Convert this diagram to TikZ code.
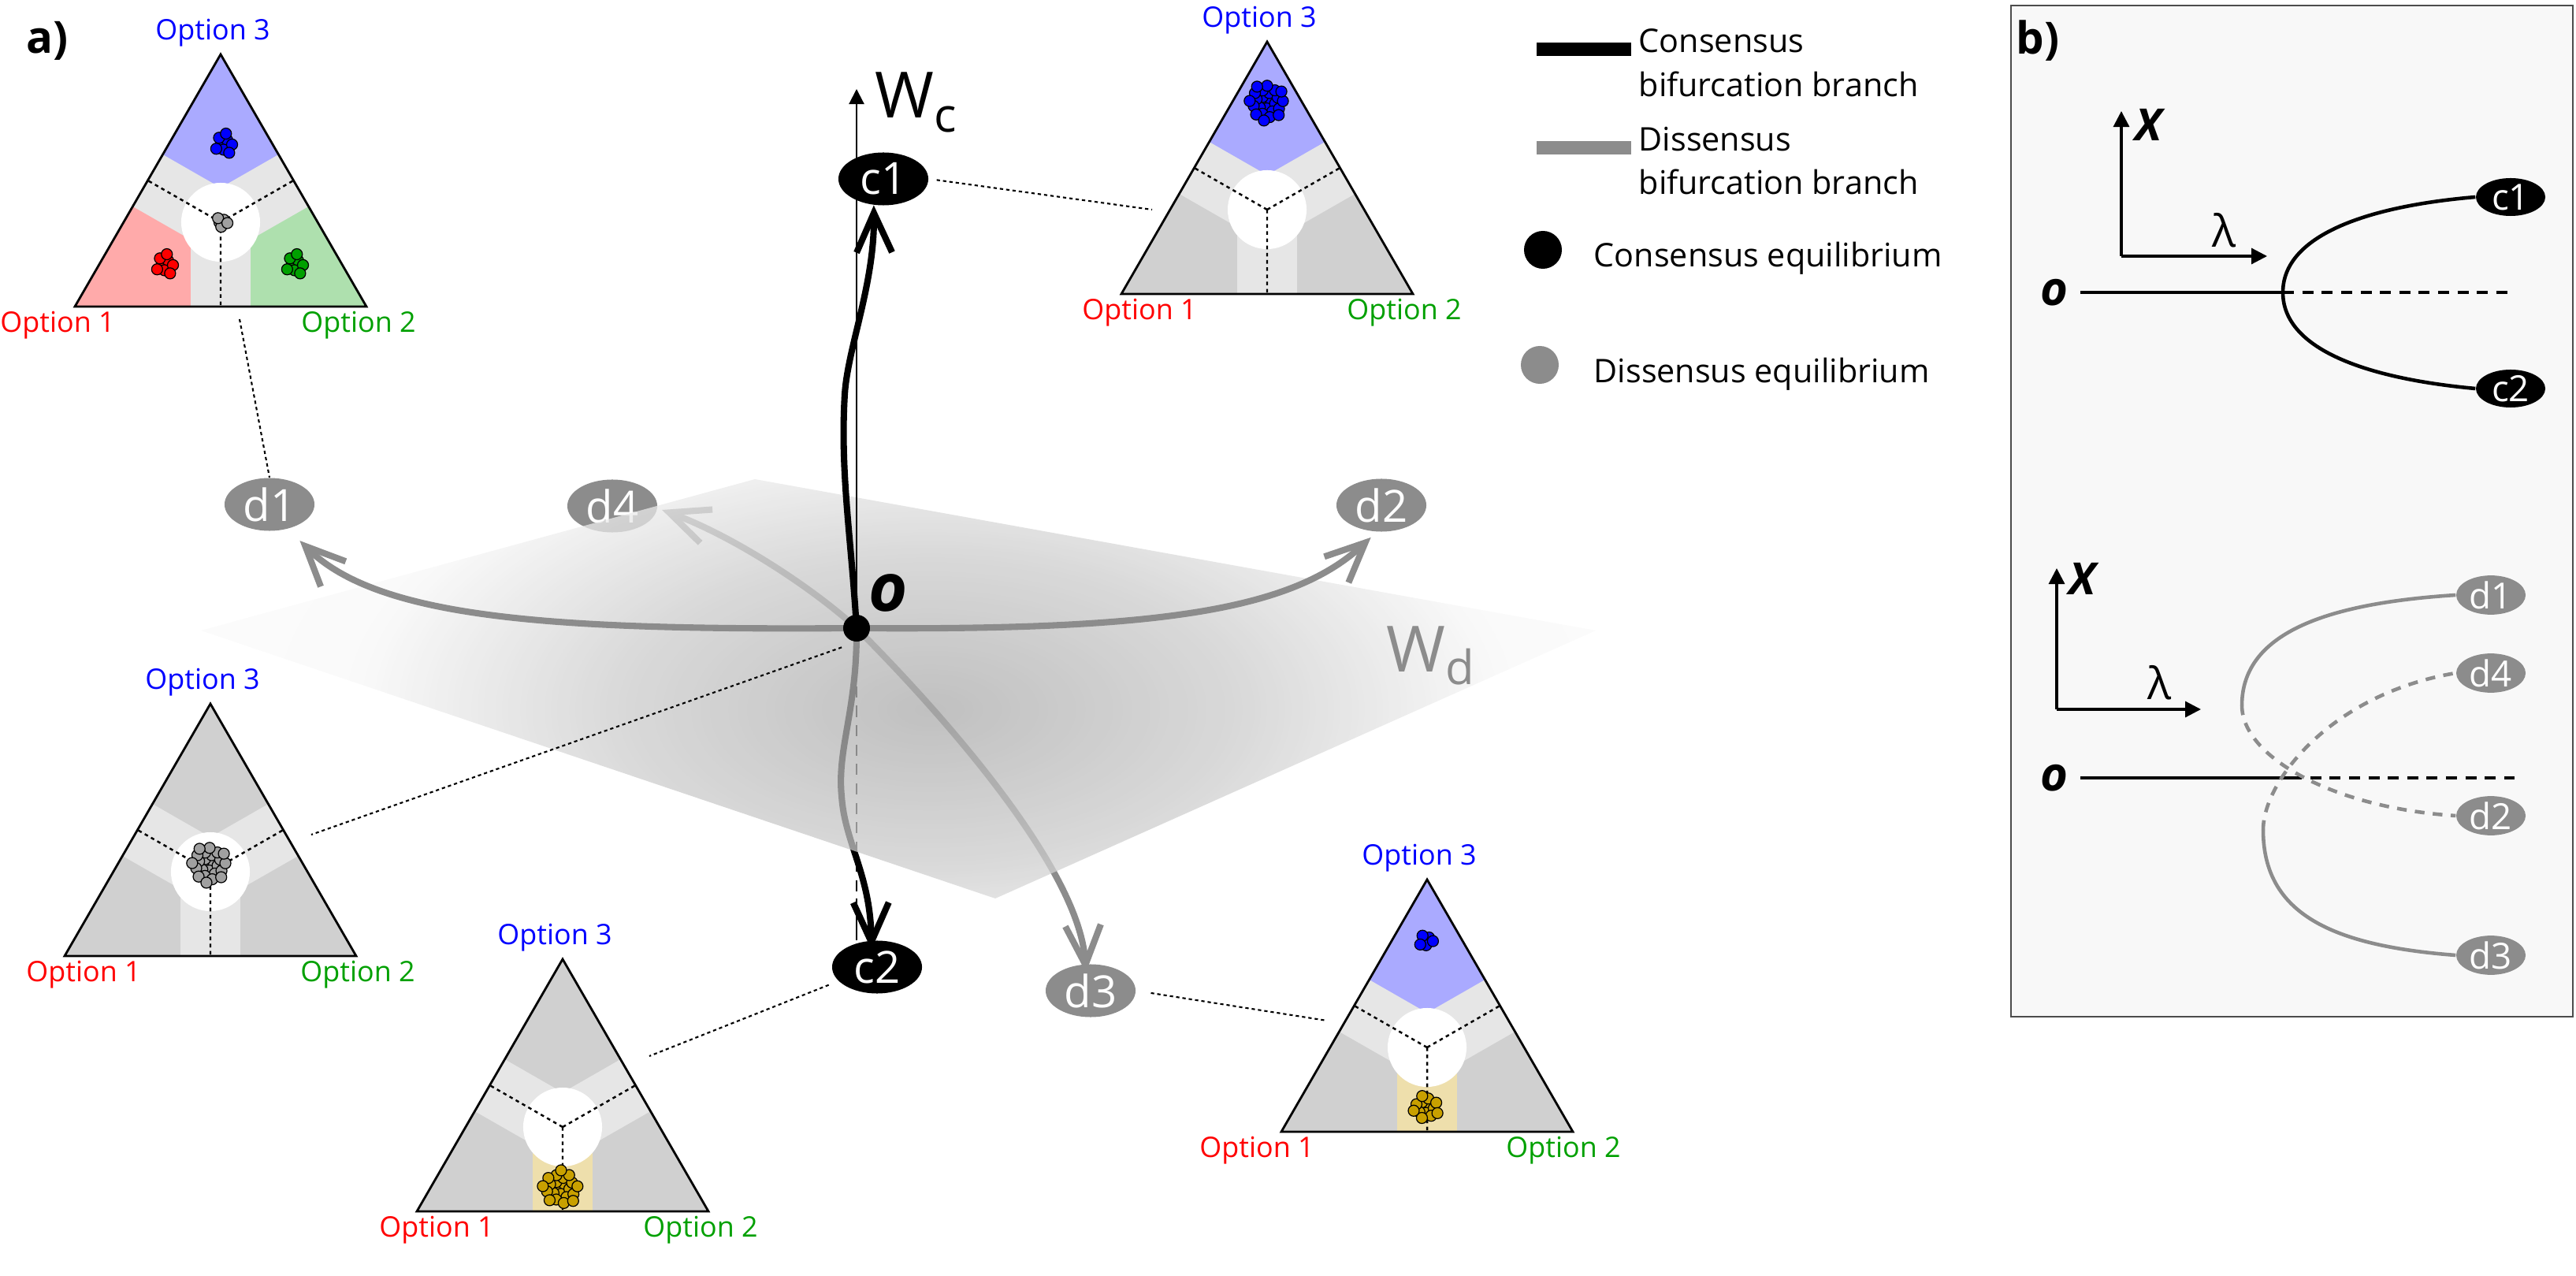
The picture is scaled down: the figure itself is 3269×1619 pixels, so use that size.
\documentclass[tikz,border=0pt]{standalone}
\usepackage{fontspec}
\setmainfont{Open Sans}
\usetikzlibrary{arrows.meta, positioning, shapes.geometric, calc}
\definecolor{cgrey}{HTML}{8C8C8C}
\definecolor{cregion}{HTML}{D0D0D0}
\definecolor{cband}{HTML}{E6E6E6}
\definecolor{cpink}{HTML}{FFAAAA}
\definecolor{cmint}{HTML}{AEE0AE}
\definecolor{clilac}{HTML}{AAAAFF}
\definecolor{ctan}{HTML}{EEDFAC}
\definecolor{cred}{HTML}{FF0000}
\definecolor{cgreen}{HTML}{00A000}
\definecolor{cblue}{HTML}{0000FF}
\definecolor{cgold}{HTML}{C8A000}
\definecolor{cdotgrey}{HTML}{A0A0A0}
\definecolor{cpanel}{HTML}{F8F8F8}
\pgfdeclareradialshading{wdshade}{\pgfpoint{0bp}{0bp}}{color(0bp)=(black!33); color(7bp)=(black!20); color(13bp)=(black!3); color(25bp)=(white); color(50bp)=(white)}
\tikzset{
  band/.style={line width=0.76cm, draw=cband},
  median/.style={draw=black, line width=0.7pt, dash pattern=on 1.3pt off 1.3pt},
  rim/.style={draw=black, line width=0.8pt, line join=miter},
  optlabel/.style={font=\fontsize{10.2}{12}\selectfont, inner sep=0pt},
  grain/.style={draw=black, line width=0.35pt},
  eq/.style={ellipse, inner sep=0pt, minimum width=1.14cm, minimum height=0.67cm, text=white, font=\fontsize{16}{16}\selectfont},
  eqsmall/.style={eq, minimum width=0.88cm, minimum height=0.48cm, font=\fontsize{13}{13}\selectfont},
  odot/.style={circle, fill=black, inner sep=0pt, minimum size=0.34cm},
  branch/.style={line width=2.3pt, -{Straight Barb[length=5mm, width=4.5mm]}},
  wcaxis/.style={draw=black, line width=0.6pt},
  leader/.style={draw=black, line width=0.6pt, dash pattern=on 1.2pt off 1.1pt},
  wlabel/.style={font=\fontsize{23}{23}\selectfont, inner sep=0pt},
  olabel/.style={font=\bfseries\itshape\fontsize{24}{24}\selectfont, inner sep=0pt},
  osmall/.style={font=\bfseries\itshape\fontsize{17}{17}\selectfont, inner sep=0pt},
  xlabel/.style={font=\bfseries\itshape\fontsize{16}{16}\selectfont, inner sep=0pt},
  lamlabel/.style={font=\fontsize{16}{16}\selectfont, inner sep=0pt},
  legtext/.style={font=\fontsize{11.75}{14}\selectfont, inner sep=0pt},
  legbar/.style={line width=0.17cm},
  panel/.style={font=\bfseries\fontsize{16}{16}\selectfont, inner sep=0pt},
  baxis/.style={draw=black, line width=0.9pt, -{Triangle[length=2mm, width=2mm]}},
  bcurve/.style={line width=1.3pt},
  bdash/.style={dash pattern=on 4pt off 3pt},
  gdash/.style={dash pattern=on 3.5pt off 3pt},
}
% simplex: name, centroid x, centroid y, fills of the option 1/2/3 corners,
% band towards the bottom edge, x of the Option 1 and Option 2 labels
\newcommand{\simplex}[9]{%
  \begin{scope}[shift={(#2,#3)}]
    \fill[#4] (0,0) -- (0,107) -- (-185,107) -- (-92.5,-53) -- cycle;
    \fill[#5] (0,0) -- (92.5,-53) -- (185,107) -- (0,107) -- cycle;
    \fill[#6] (0,0) -- (-92.5,-53) -- (0,-213) -- (92.5,-53) -- cycle;
    \begin{scope}
      \clip (-185,107) -- (185,107) -- (0,-213) -- cycle;
      \draw[band] (0,0) -- (-92.5,-53) (0,0) -- (92.5,-53);
      \draw[band, draw=#7] (0,0) -- (0,107);
    \end{scope}
    \fill[white] (0,0) circle (0.5cm);
    \draw[median] (0,0) -- (-92.5,-53) (0,0) -- (92.5,-53) (0,0) -- (0,107);
    \draw[rim] (-185,107) -- (185,107) -- (0,-213) -- cycle;
    \node[optlabel, text=cblue] (#1-o3) at (-10,-240) {Option 3};
    \node[optlabel, text=cred] (#1-o1) at (#8,131) {Option 1};
    \node[optlabel, text=cgreen] (#1-o2) at (#9,131) {Option 2};
  \end{scope}}
% cluster of agents: x, y, count, colour, spread
\newcommand{\grains}[5]{%
  \foreach \k in {1,...,#3}{
    \pgfmathsetmacro{\rr}{#5*sqrt(\k-0.5)}
    \pgfmathsetmacro{\aa}{\k*137.5+40}
    \filldraw[grain, fill=#4] ($(#1,#2)+(\aa:\rr)$) circle (0.07cm);
  }}

\begin{document}
\begin{tikzpicture}[x=0.01cm, y=-0.01cm]
  \useasboundingbox (0,0) rectangle (3269,1619);
  \node[panel] (la) at (60,52) {a)};

  % simplices
  \simplex{tl}{280}{282}{cpink}{cmint}{clilac}{cband}{-207}{175}
  \simplex{tr}{1608}{266}{cregion}{cregion}{clilac}{cband}{-162}{174}
  \simplex{ml}{267}{1106}{cregion}{cregion}{cregion}{cband}{-161}{187}
  \simplex{bl}{714}{1430}{cregion}{cregion}{cregion}{ctan}{-160}{175}
  \simplex{br}{1811}{1329}{cregion}{cregion}{clilac}{ctan}{-216}{173}
  \grains{284}{182}{8}{cblue}{5}
  \grains{209}{335}{8}{cred}{5}
  \grains{374}{335}{8}{cgreen}{5}
  \grains{281}{282}{5}{cdotgrey}{3.6}
  \grains{1608}{130}{25}{cblue}{4.8}
  \grains{266}{1097}{25}{cdotgrey}{4.8}
  \grains{712}{1507}{22}{cgold}{5}
  \grains{1810}{1193}{6}{cblue}{4}
  \grains{1810}{1405}{14}{cgold}{4.5}

  % equilibria and branches behind the plane
  \coordinate (O) at (1087,797);
  \coordinate (wc-top) at (1087,113);
  \coordinate (wc-low) at (1087,1140);
  \node[eq, fill=black] (c2) at (1113,1227) {c2};
  \node[eq, fill=cgrey] (d3) at (1384,1257) {d3};
  \node[eq, fill=cgrey] (d4) at (777,642) {d4};
  \draw[wcaxis, dash pattern=on 4pt off 3pt] (O) -- (wc-low);
  \draw[wcaxis] (wc-low) -- (wc-low |- c2.north);
  \draw[branch] (O) .. controls (1088,900) and (1062,950) .. (1068,1010) .. controls (1072,1070) and (1105,1110) .. ([yshift=-1.2mm]c2.102);
  \draw[branch, cgrey] (O) .. controls (1190,900) and (1370,1100) .. ([yshift=-1.1mm]d3.100);
  \draw[branch, cgrey] (O) .. controls (1030,745) and (930,680) .. ([xshift=0.6mm]d4.-5);

  % plane W_d
  \begin{scope}
    \clip (255,800) -- (958,608) -- (2025,800) -- (1263,1140) -- cycle;
    \shade[shading=wdshade, fill opacity=0.75] (1180,900) ellipse [x radius=14cm, y radius=7cm];
  \end{scope}

  % branches in front
  \node[eq, fill=black] (c1) at (1121,227) {c1};
  \node[eq, fill=cgrey] (d1) at (342,640) {d1};
  \node[eq, fill=cgrey] (d2) at (1753,641) {d2};
  \draw[wcaxis, -{Triangle[length=1.9mm, width=1.9mm]}] (O) -- (wc-top);
  \draw[branch] (O) .. controls (1080,680) and (1066,600) .. (1072,500) .. controls (1076,440) and (1110,360) .. (c1.250);
  \draw[branch, cgrey, shorten >=2.1mm] (O) .. controls (700,800) and (480,785) .. (d1.307);
  \draw[branch, cgrey, shorten >=1mm] (O) .. controls (1470,800) and (1640,775) .. (d2.260);
  \node[odot] (Odot) at (O) {};
  \node[olabel] (olab) at (1127,752) {o};
  \node[wlabel, anchor=base west] (wc) at (1110,150) {W\raisebox{-0.17cm}{\fontsize{17}{17}\selectfont c}};
  \node[wlabel, anchor=base west, text=cgrey] (wd) at (1759,853) {W\raisebox{-0.15cm}{\fontsize{17}{17}\selectfont d}};

  % leaders to the simplices
  \coordinate (tl-lead) at (304,405);
  \coordinate (tr-lead) at (1462,266);
  \coordinate (ml-lead) at (395,1059);
  \coordinate (bl-lead) at (824,1340);
  \coordinate (br-lead) at (1684,1295);
  \draw[leader] (tl-lead) -- (d1.north);
  \draw[leader, shorten <=1mm] (c1.east) -- (tr-lead);
  \draw[leader, shorten <=2mm] (Odot.south) -- (ml-lead);
  \draw[leader, shorten <=1.3mm] (c2.200) -- (bl-lead);
  \draw[leader, shorten <=1.9mm] (d3.east) -- (br-lead);

  % legend
  \draw[legbar, draw=black] (1950,63) -- (2070,63);
  \draw[legbar, draw=cgrey] (1950,188) -- (2070,188);
  \node[legtext, anchor=base west] (lg1a) at (2079,67) {Consensus};
  \node[legtext, anchor=base west] (lg1b) at (2079,123) {bifurcation branch};
  \node[legtext, anchor=base west] (lg2a) at (2079,192) {Dissensus};
  \node[legtext, anchor=base west] (lg2b) at (2079,247) {bifurcation branch};
  \node[circle, fill=black, inner sep=0pt, minimum size=0.48cm] (lg3) at (1958,317) {};
  \node[circle, fill=cgrey, inner sep=0pt, minimum size=0.48cm] (lg4) at (1954,463) {};
  \node[legtext, anchor=base west] (lg3t) at (2022,339) {Consensus equilibrium};
  \node[legtext, anchor=base west] (lg4t) at (2022,486) {Dissensus equilibrium};

  % panel b
  \draw[fill=cpanel, draw=black!70, line width=0.6pt] (2552,7) rectangle (3265,1290);
  \node[panel] (lb) at (2586,52) {b)};
  % consensus bifurcation
  \coordinate (ax1) at (2692,325);
  \draw[baxis] (ax1) -- ++(0,-184);
  \draw[baxis] (ax1) -- ++(185,0);
  \node[xlabel] (x1) at (2727,158) {X};
  \node[lamlabel] (l1) at (2822,292) {λ};
  \node[osmall] (o1) at (2607,371) {o};
  \coordinate (bif1) at (2897,371);
  \coordinate (end1) at (3191,371);
  \node[eqsmall, fill=black] (bc1) at (3186,250) {c1};
  \node[eqsmall, fill=black] (bc2) at (3186,493) {c2};
  \draw[bcurve, shorten <=1.5mm] (o1) -- (bif1);
  \draw[bcurve, bdash] (bif1) -- (end1);
  \draw[bcurve] (bc1.west) .. controls (3000,262) and (2897,300) .. (bif1) .. controls (2897,442) and (3000,480) .. (bc2.west);
  % dissensus bifurcation
  \coordinate (ax2) at (2610,900);
  \draw[baxis] (ax2) -- ++(0,-179);
  \draw[baxis] (ax2) -- ++(183,0);
  \node[xlabel] (x2) at (2643,734) {X};
  \node[lamlabel] (l2) at (2740,866) {λ};
  \node[osmall] (o2) at (2607,987) {o};
  \coordinate (bif2) at (2907,987);
  \coordinate (end2) at (3191,987);
  \coordinate (v1) at (2845,895);
  \coordinate (v2) at (2872,1053);
  \node[eqsmall, fill=cgrey] (bd1) at (3161,755) {d1};
  \node[eqsmall, fill=cgrey] (bd4) at (3161,854) {d4};
  \node[eqsmall, fill=cgrey] (bd2) at (3161,1035) {d2};
  \node[eqsmall, fill=cgrey] (bd3) at (3161,1212) {d3};
  \draw[bcurve, shorten <=1.5mm] (o2) -- (bif2);
  \draw[bcurve, bdash] (bif2) -- (end2);
  \draw[bcurve, cgrey] (bd1.west) .. controls (2960,765) and (2845,800) .. (v1);
  \draw[bcurve, cgrey, gdash] (v1) .. controls (2845,960) and (2960,1025) .. (bd2.west);
  \draw[bcurve, cgrey, gdash] (v2) .. controls (2872,990) and (2960,880) .. (bd4.west);
  \draw[bcurve, cgrey] (v2) .. controls (2872,1160) and (2960,1200) .. (bd3.west);
\end{tikzpicture}
\end{document}
